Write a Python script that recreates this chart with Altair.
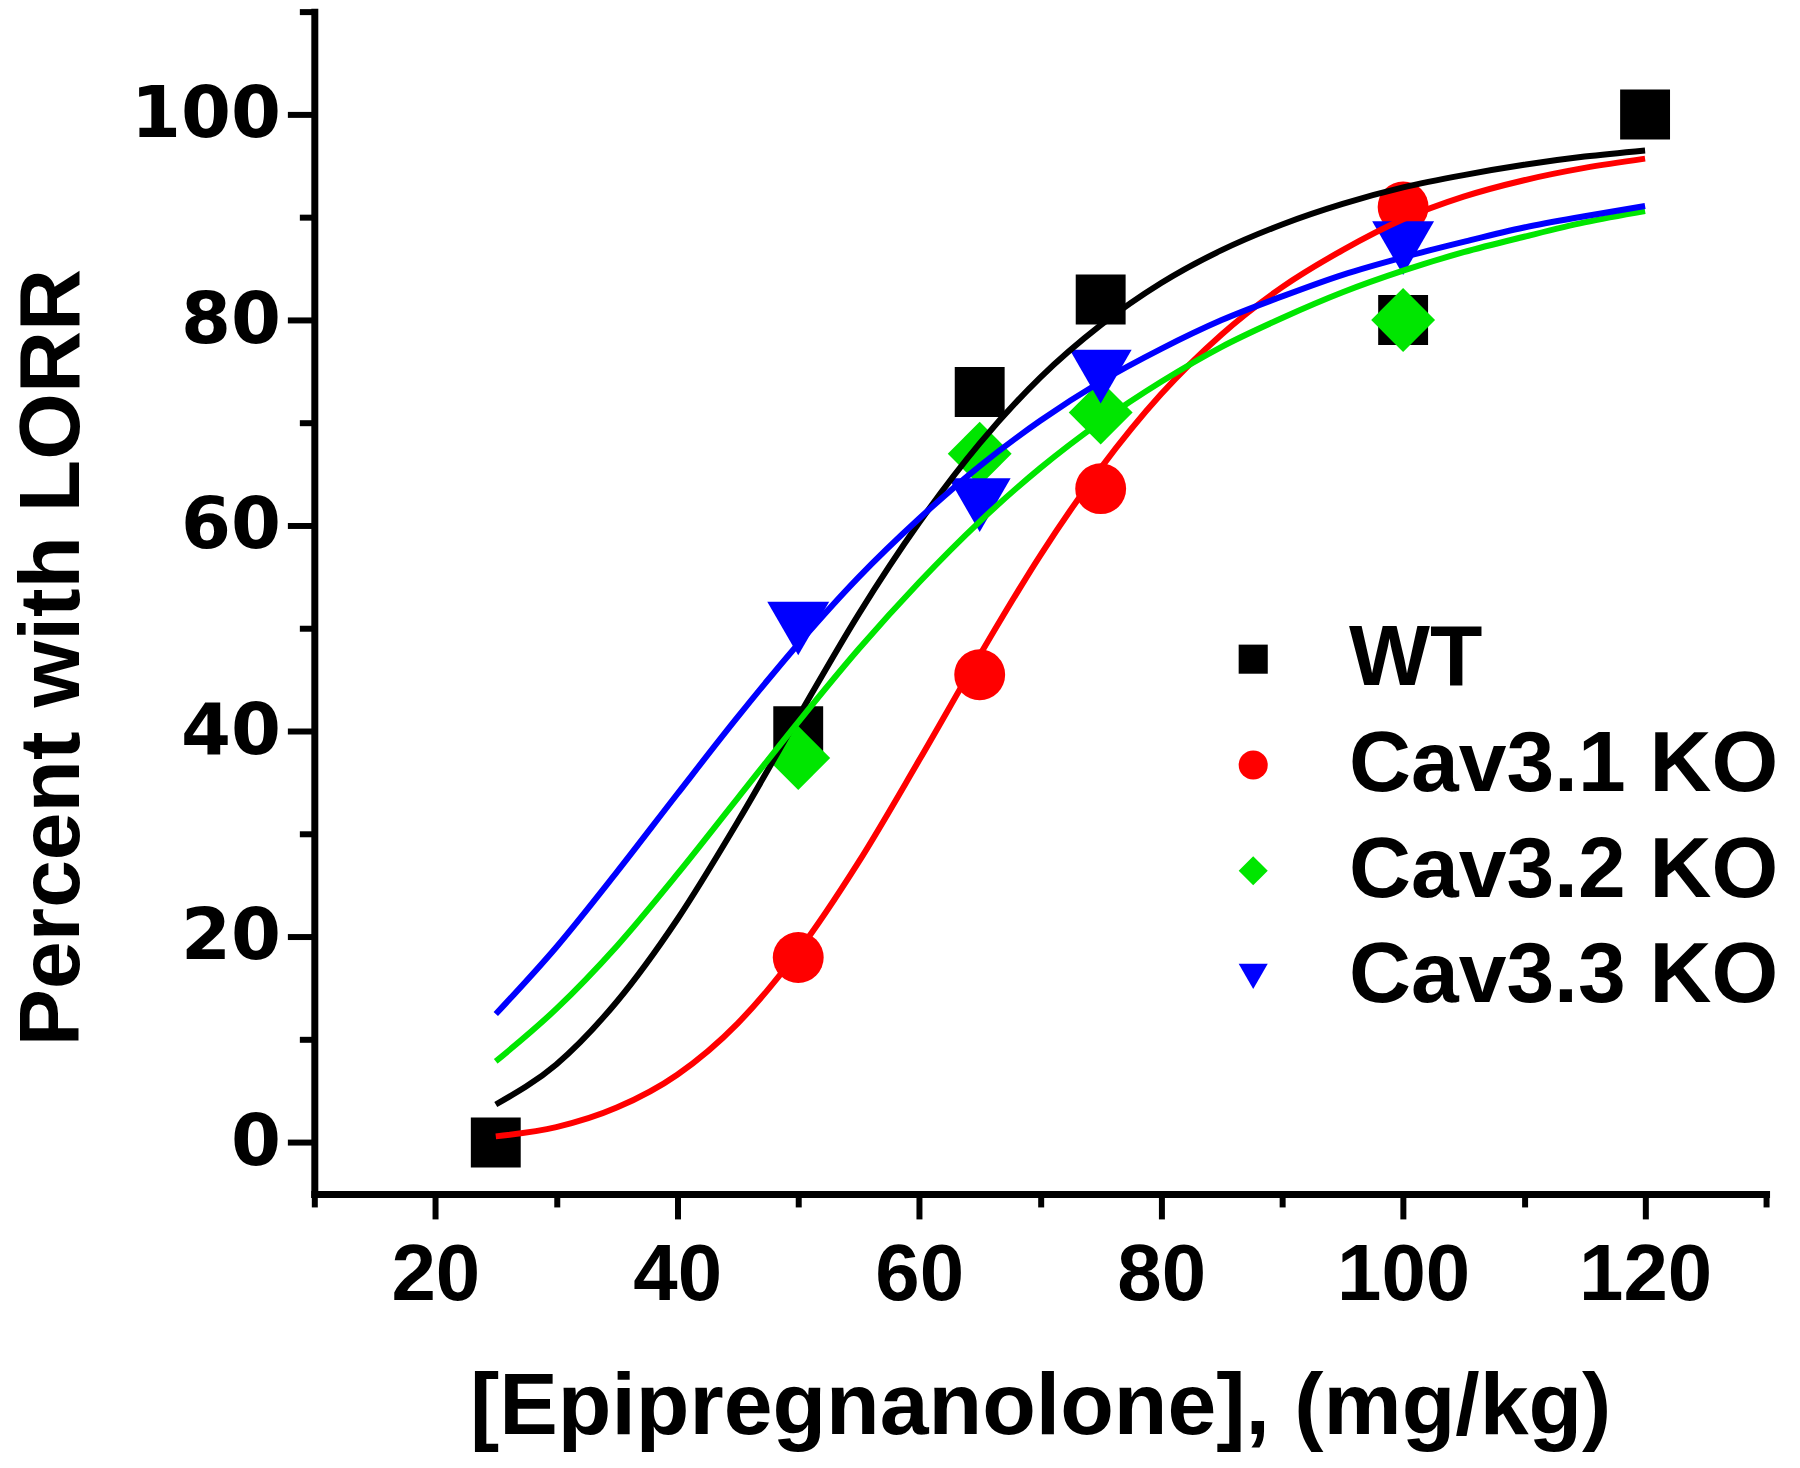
import altair as alt
import pandas as pd

# ---- data ----
series_names = ["WT", "Cav3.1 KO", "Cav3.2 KO", "Cav3.3 KO"]
series_colors = ["#000000", "#ff0000", "#00e600", "#0000ff"]
series_shapes = ["square", "circle", "diamond", "triangle-down"]
series_sizes = [2500, 2600, 4100, 3850]

# measured points
wt_x = [25, 50, 65, 75, 100, 120]
wt_y = [0, 40, 73, 82, 80, 100]
cav31_x = [50, 65, 75, 100]
cav31_y = [18, 45.5, 63.6, 91]
cav32_x = [50, 65, 75, 100]
cav32_y = [37.4, 67, 71, 80]
cav33_x = [50, 65, 75, 100]
cav33_y = [50, 62, 74.5, 87]

# fitted curves
curve_x = [25, 30, 35, 40, 45, 50, 55, 60, 65, 70, 75, 80, 85, 90, 95, 100, 105, 110, 115, 120]
wt_curve = [3.7, 7.6, 13.7, 21.7, 31.2, 41.4, 51.4, 60.3, 68.0, 74.4, 79.5, 83.6, 86.8, 89.3, 91.3, 92.9, 94.1, 95.1, 95.9, 96.5]
cav31_curve = [0.6, 1.5, 3.4, 6.6, 11.6, 18.6, 27.3, 37.2, 47.4, 57.1, 65.6, 72.8, 78.6, 83.2, 86.8, 89.8, 92.0, 93.6, 94.8, 95.7]
cav32_curve = [7.9, 13.0, 19.1, 26.1, 33.5, 40.9, 48.0, 54.5, 60.4, 65.6, 70.1, 74.0, 77.4, 80.2, 82.7, 84.8, 86.6, 88.1, 89.5, 90.6]
cav33_curve = [12.5, 19.0, 26.3, 33.9, 41.4, 48.5, 55.0, 60.7, 65.8, 70.2, 74.0, 77.2, 80.0, 82.3, 84.4, 86.1, 87.6, 89.0, 90.1, 91.1]

x_ticks = [10, 20, 30, 40, 50, 60, 70, 80, 90, 100, 110, 120, 130]
y_ticks = [0, 10, 20, 30, 40, 50, 60, 70, 80, 90, 100, 110]

# ---- tables ----
pts = []
for name, xs, ys in [("WT", wt_x, wt_y), ("Cav3.1 KO", cav31_x, cav31_y),
                     ("Cav3.2 KO", cav32_x, cav32_y), ("Cav3.3 KO", cav33_x, cav33_y)]:
    k = series_names.index(name)
    for a, b in zip(xs, ys):
        pts.append({"series": name, "dose": a, "pct": b, "ord": k, "sz": series_sizes[k]})
pts_df = pd.DataFrame(pts)

crv = []
for name, ys in [("WT", wt_curve), ("Cav3.1 KO", cav31_curve),
                 ("Cav3.2 KO", cav32_curve), ("Cav3.3 KO", cav33_curve)]:
    for a, b in zip(curve_x, ys):
        crv.append({"series": name, "dose": a, "pct": b})
crv_df = pd.DataFrame(crv)

FONT = "Liberation Sans"

x_scale = alt.Scale(domain=[10, 130], nice=False, zero=False)
y_scale = alt.Scale(domain=[-5, 110], nice=False, zero=False)

x_axis = alt.Axis(
    values=x_ticks,
    labelExpr="datum.value % 20 === 0 ? datum.label : ''",
    tickSize={"condition": {"test": "datum.value % 20 === 0", "value": 25}, "value": 13},
    labelPadding=18,
    labelFont=FONT, labelFontSize=80, labelFontWeight="bold", labelColor="black",
    labelOverlap=False, labelFlush=False, labelBound=False,
    title="[Epipregnanolone], (mg/kg)",
    titleFont=FONT, titleFontSize=88, titleFontWeight="bold", titleColor="black",
    titleY=240, titleBaseline="alphabetic",
    grid=False,
)
y_axis = alt.Axis(
    values=y_ticks,
    labelExpr="datum.value % 20 === 0 ? datum.label : ''",
    tickSize={"condition": {"test": "datum.value % 20 === 0", "value": 27}, "value": 15},
    labelPadding=7,
    labelFont="DejaVu Sans", labelFontSize=72, labelFontWeight="bold", labelColor="black",
    labelOverlap=False, labelFlush=False, labelBound=False,
    title="Percent with LORR",
    titleFont=FONT, titleFontSize=86, titleFontWeight="bold", titleColor="black",
    titleX=-262, titleY=647, titleAngle=270, titleAlign="center", titleBaseline="middle",
    grid=False,
)

color = alt.Color("series:N", scale=alt.Scale(domain=series_names, range=series_colors),
                  legend=alt.Legend(
                      title=None, orient="none", legendX=898, legendY=606,
                      labelFont=FONT, labelFontSize=86, labelFontWeight="bold", labelColor="black",
                      labelLimit=0, labelOffset=53, rowPadding=20, padding=0,
                      symbolSize=850, symbolStrokeWidth=0,
                  ))
shape = alt.Shape("series:N", scale=alt.Scale(domain=series_names, range=series_shapes))

points = alt.Chart(pts_df).mark_point(filled=True, opacity=1).encode(
    x=alt.X("dose:Q", scale=x_scale, axis=x_axis),
    y=alt.Y("pct:Q", scale=y_scale, axis=y_axis),
    color=color,
    shape=shape,
    size=alt.Size("sz:Q", scale=None, legend=None),
    order=alt.Order("ord:Q"),
)

lines = alt.Chart(crv_df).mark_line(strokeWidth=6, interpolate="monotone").encode(
    x=alt.X("dose:Q", scale=x_scale),
    y=alt.Y("pct:Q", scale=y_scale),
    color=alt.Color("series:N", scale=alt.Scale(domain=series_names, range=series_colors), legend=None),
    detail="series:N",
)

chart = alt.layer(points, lines).properties(
    width=1455, height=1185,
    padding={"left": 307, "top": 2, "right": 26, "bottom": 265},
    autosize=alt.AutoSizeParams(type="none"),
    background="white",
).configure_view(stroke=None).configure_axis(
    domainColor="black", domainWidth=7, tickColor="black", tickWidth=6, domainCap="square",
)

chart.save("out.html", embed_options={"renderer": "svg", "actions": False})
